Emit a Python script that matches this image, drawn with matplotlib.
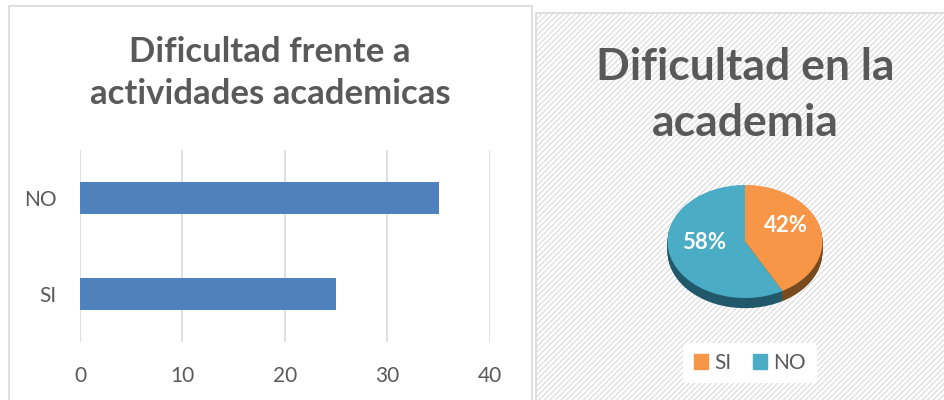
import numpy as np
import matplotlib.pyplot as plt
from matplotlib.patches import Rectangle, Patch

plt.rcParams['font.family'] = ['Lato', 'DejaVu Sans']

# datos
categorias = ['SI', 'NO']
valores = [25, 35]
pie_labels = ['SI', 'NO']
pie_valores = [42, 58]
xticks = [0, 10, 20, 30, 40]

gris = '#595959'
azul = '#4F81BD'
naranja = '#F79646'
celeste = '#4BACC6'
naranja_osc = '#7a4a1f'
celeste_osc = '#22596a'

W, H = 945, 400
fig = plt.figure(figsize=(W / 100, H / 100), dpi=100)


def caja(x0, y0, x1, y1):
    # pixeles (desde arriba) -> coordenadas de figura
    return [x0 / W, 1 - y1 / H, (x1 - x0) / W, (y1 - y0) / H]


# marcos de los dos graficos
plt.rcParams['hatch.color'] = '#e4e4e4'
plt.rcParams['hatch.linewidth'] = 0.8
fig.patches.append(Rectangle((9 / W, -0.05), (532 - 9) / W, 1 - 6 / H + 0.05,
                             transform=fig.transFigure, facecolor='white',
                             edgecolor='#d9d9d9', lw=1.2, zorder=-5))
fig.patches.append(Rectangle((536 / W, -0.05), 0.5, 1 - 13 / H + 0.05,
                             transform=fig.transFigure, facecolor='white',
                             edgecolor='#d9d9d9', lw=1.2, hatch='//////', zorder=-5))

# ---- grafico de barras ----
ax = fig.add_axes(caja(80, 150, 490, 342))
ax.barh(categorias, valores, height=0.34, color=azul, zorder=2)
ax.set_xlim(0, 40)
ax.set_ylim(-0.5, 1.5)
ax.set_xticks(xticks)
ax.grid(axis='x', color='#d9d9d9', lw=1.2, zorder=0)
for s in ax.spines.values():
    s.set_visible(False)
ax.tick_params(length=0, labelsize=15, colors=gris)
ax.tick_params(axis='y', pad=17)
ax.tick_params(axis='x', pad=17)
ax.patch.set_alpha(0)

fig.text(270 / W, 1 - 73 / H, 'Dificultad frente a\nactividades academicas',
         ha='center', va='center', fontsize=25, fontweight='bold', color=gris,
         linespacing=1.4)

# ---- grafico circular ----
fig.text(745 / W, 1 - 95 / H, 'Dificultad en la\nacademia', ha='center',
         va='center', fontsize=32, fontweight='bold', color=gris, linespacing=1.5)

axp = fig.add_axes(caja(660, 178, 830, 318))
prof = 0.18
# lados (profundidad)
for d in np.linspace(prof, 0.01, 12):
    axp.pie(pie_valores, colors=[naranja_osc, celeste_osc], startangle=90,
            counterclock=False, center=(0, -d), radius=1)
_, _, pct = axp.pie(pie_valores, colors=[naranja, celeste], startangle=90,
                    counterclock=False, radius=1, autopct='%d%%', pctdistance=0.6,
                    textprops=dict(color='white', fontsize=16, fontweight='bold'))
for t in pct:
    x, y = t.get_position()
    t.set_position((x * 0.9, y + 0.14))
axp.set_aspect('auto')
axp.set_xlim(-1.097, 1.097)
axp.set_ylim(-1.354, 1.124)
axp.axis('off')

handles = [Patch(color=naranja), Patch(color=celeste)]
fig.legend(handles, pie_labels, loc='center', bbox_to_anchor=(750 / W, 1 - 363 / H),
           ncol=2, frameon=True, facecolor='white', edgecolor='none', framealpha=1,
           fontsize=15, labelcolor=gris, handlelength=0.7, handleheight=0.7,
           handletextpad=0.3, columnspacing=1.0, borderpad=0.5)

fig.savefig('out.png', dpi=100)
